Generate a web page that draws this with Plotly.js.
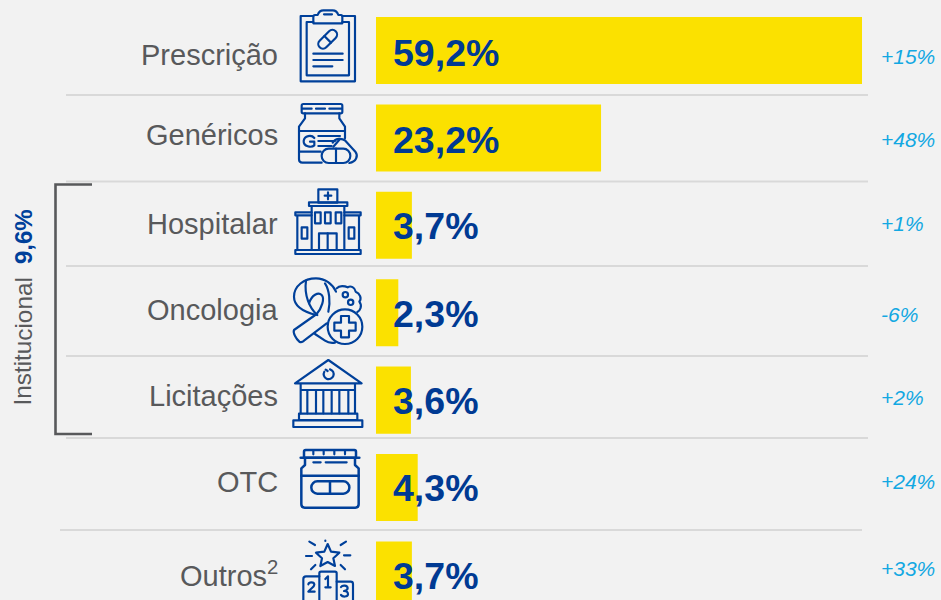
<!DOCTYPE html>
<html><head><meta charset="utf-8">
<script src="https://cdn.plot.ly/plotly-3.0.1.min.js"></script>
<style>html,body{margin:0;padding:0;background:#f2f2f2}#c{width:941px;height:600px}</style>
</head><body><div id="c"></div>
<script>
// ---- data
const categories = ["Prescrição","Genéricos","Hospitalar","Oncologia","Licitações","OTC","Outros<sup>2</sup>"];
const shares = [59.2,23.2,3.7,2.3,3.6,4.3,3.7];
const shareLabels = ["59,2%","23,2%","3,7%","2,3%","3,6%","4,3%","3,7%"];
const changeLabels = ["+15%","+48%","+1%","-6%","+2%","+24%","+33%"];
const groupName = "Institucional";
const groupShare = "9,6%";

// ---- layout helpers (page pixels to paper coordinates)
const W=941,H=600,L=376,R=862;
const px=x=>(x-L)/(R-L), py=y=>1-y/H;
const labelY=[55,135,224,310,396,482,574], shareY=[52.5,140.5,226.5,313.5,400.5,487.5,575.5], changeY=[56,139,224,314,397,481,568];
const BLUE="#00409a", GREY="#58595b", CYAN="#13a8e2";

const ann=[];
categories.forEach((c,i)=>{
  ann.push({text:c,xref:'paper',yref:'paper',x:px(280),y:py(labelY[i]),xanchor:'right',yanchor:'middle',showarrow:false,font:{family:'Liberation Sans',size:29,color:GREY}});
  ann.push({text:'<b>'+shareLabels[i]+'</b>',xref:'paper',yref:'paper',x:px(391),y:py(shareY[i]),xanchor:'left',yanchor:'middle',showarrow:false,font:{family:'Liberation Sans',size:37.5,color:'#003a93'}});
  ann.push({text:changeLabels[i],xref:'paper',yref:'paper',x:px(879),y:py(changeY[i]),xanchor:'left',yanchor:'middle',showarrow:false,font:{family:'Liberation Sans',size:21,style:'italic',color:CYAN}});
});
ann.push({text:groupName,xref:'paper',yref:'paper',x:px(23),y:py(341.5),xanchor:'center',yanchor:'middle',textangle:-89.99,showarrow:false,font:{family:'Liberation Sans',size:24.3,color:GREY}});
ann.push({text:'<b>'+groupShare+'</b>',xref:'paper',yref:'paper',x:px(23),y:py(237),xanchor:'center',yanchor:'middle',textangle:-89.99,showarrow:false,font:{family:'Liberation Sans',size:24,color:BLUE}});

const seps=[[66,868,95],[66,868,181.5],[66,868,266],[66,868,356],[66,868,438],[60,862,530]];
const shapes=seps.map(s=>({type:'line',xref:'paper',yref:'paper',x0:px(s[0]),x1:px(s[1]),y0:py(s[2]),y1:py(s[2]),line:{color:'#d9d9d9',width:2},layer:'below'}));
shapes.push({type:'path',xref:'paper',yref:'paper',
  path:`M ${px(92)} ${py(184.5)} L ${px(55.5)} ${py(184.5)} L ${px(55.5)} ${py(434)} L ${px(92)} ${py(434)}`,
  line:{color:GREY,width:2.6}});

// ---- pictograms
function svg(vb,body){
  return 'data:image/svg+xml,'+encodeURIComponent(`<svg xmlns="http://www.w3.org/2000/svg" viewBox="${vb.join(' ')}" width="${vb[2]}" height="${vb[3]}"><g fill="none" stroke="${BLUE}" stroke-width="6.5" stroke-linecap="round" stroke-linejoin="round">${body}</g></svg>`);
}
const icons=[
 {x0:280,y0:0,crop:0,h:90,body:`<path d="M100 48H62V244H225V48H187"/><path d="M100 66H80V226H207V66H187"/>
  <path d="M100 70V50C100 47 102 45 105 45H113C116 36 122 31 130 31H158C166 31 172 36 175 45H183C186 45 187 47 187 50V70Z"/><path d="M132 43H156"/>
  <g transform="rotate(-45 143 118)"><rect x="109" y="104" width="68" height="28" rx="14"/><path d="M143 104V132"/></g>
  <path d="M100 161H188M100 180H188M100 199H157"/>`},
 {x0:280,y0:90,crop:0,h:90,body:`<rect x="65" y="312" width="122" height="28" rx="5"/><path d="M68 326H95M108 326H135M148 326H185"/>
  <path d="M75 340V355M178 340V355M75 355L57 380V478C57 485 60 488 67 488H125M178 355L195 380V415"/>
  <path d="M57 393H195M57 455H122"/><path d="M103 414C95 404 73 406 71 423C70 440 94 444 103 436V425H90"/>
  <path d="M115 408H180M115 423H165M115 438H155"/>
  <rect x="125" y="446" width="86" height="43" rx="21"/><path d="M168 446V489"/>
  <path d="M158 428C165 415 185 413 196 422L226 455C236 468 228 486 208 489"/><path d="M180 417L160 440"/>`},
 {x0:280,y0:180,crop:180,h:90,body:`<rect x="115" y="28" width="57" height="40"/><path d="M144 37V58M134 47H154"/>
  <rect x="87" y="67" width="115" height="11"/><path d="M95 78V210M193 78V210"/>
  <rect x="105" y="97" width="17" height="33"/><rect x="135" y="97" width="17" height="33"/><rect x="167" y="97" width="17" height="33"/>
  <rect x="117" y="160" width="53" height="50"/><path d="M143 160V210"/>
  <path d="M95 97H46V106H95M193 97H242V106H193M52 106V210M237 106V210"/>
  <rect x="65" y="142" width="17" height="34"/><rect x="206" y="142" width="17" height="34"/>
  <rect x="46" y="210" width="196" height="12"/>`},
 {x0:280,y0:270,crop:180,h:90,body:`<path d="M108 405C70 395 42 378 42 350C42 318 72 295 108 295C135 295 158 312 168 335"/>
  <path d="M78 302C72 345 88 385 112 405"/>
  <path d="M87 370C95 345 115 335 125 345C135 355 125 385 110 402L42 450C38 458 48 476 58 485C64 488 68 486 72 482L140 430"/>
  <path d="M135 310C148 330 152 365 145 395"/><path d="M105 462L135 482C145 489 155 490 165 488"/>
  <circle cx="195" cy="440" r="52"/><path d="M183 408H207V428H227V452H207V472H183V452H163V428H183Z"/>
  <path d="M170 325C178 315 195 318 203 322C212 316 225 322 227 335C240 340 246 355 238 365C248 378 240 392 232 396"/>
  <circle cx="196" cy="344" r="8"/><circle cx="212" cy="367" r="8"/>`},
 {x0:280,y0:355,crop:355,h:90,body:`<path d="M145 15L45 85H245Z"/><path d="M150 43A15 15 0 1 1 133 50"/><path d="M137 44L143 48"/>
  <path d="M62 88V175M225 88V175M62 105H225"/>
  <path d="M82 108V175M108 108V175M130 108V175M155 108V175M178 108V175M205 108V175"/>
  <rect x="57" y="176" width="175" height="19"/><rect x="40" y="196" width="207" height="20"/>`},
 {x0:280,y0:445,crop:355,h:90,body:`<path d="M72 308V290C72 287 74 285 77 285H223C226 285 228 287 228 290V308Z" stroke-width="7.5"/><path d="M62 308H238" stroke-width="7.5"/>
  <path d="M100 285V298M131 285V298M163 285V298M195 285V298"/><path d="M75 310V330L64 340V448C64 454 68 458 74 458H226C232 458 236 454 236 448V340L225 330V310" stroke-width="7.5"/>
  <path d="M64 362H236" stroke-width="7.5"/><path d="M100 322H122M137 322H200"/>
  <rect x="94" y="379" width="114" height="37" rx="18" stroke-width="7.5"/><path d="M150 379V416" stroke-width="7.5"/>`},
 {x0:280,y0:535,crop:355,h:65,body:`<path d="M143 567L153 590L178 593L160 610L165 633L143 621L121 633L126 610L108 593L133 590Z"/>
  <path d="M88 560L105 570M198 560L182 570M78 603H96M192 601H211M93 643L106 630M195 643L182 630M136 557V558"/>
  <path d="M118 735V655C118 652 120 650 123 650H165C168 650 170 652 170 655V735"/>
  <path d="M118 664H78C73 664 70 667 70 672V735M170 680H212C216 680 219 683 219 687V735"/>
  <path d="M136 672L144 664V696M136 697H152" stroke-width="6.5"/>
  <path d="M85 688C87 680 102 680 103 689C103 696 92 700 85 710H104" stroke-width="6.5"/>
  <path d="M183 696C187 690 202 690 203 699C203 705 197 707 192 708C198 708 204 711 204 718C203 726 188 727 183 720" stroke-width="6.5"/>`}
];
const imgs=icons.map(ic=>({
  source:svg([0,(ic.y0-ic.crop)*3,300,ic.h*3],ic.body),xref:'paper',yref:'paper',x:px(ic.x0),y:py(ic.y0),
  sizex:100/(R-L),sizey:ic.h/H,xanchor:'left',yanchor:'top',sizing:'stretch',layer:'above'}));

Plotly.newPlot('c',[{
  type:'bar',orientation:'h',y:categories,x:shares,width:0.767,
  marker:{color:'#fbe100',line:{width:0}},hoverinfo:'skip',showlegend:false
}],{
  width:W,height:H,margin:{l:L,r:W-R,t:0,b:0,pad:0},
  paper_bgcolor:'#f2f2f2',plot_bgcolor:'rgba(0,0,0,0)',showlegend:false,
  xaxis:{range:[0,50.1],visible:false,fixedrange:true},
  yaxis:{type:'category',categoryorder:'array',categoryarray:categories,range:[6.287,-0.578],visible:false,fixedrange:true},
  annotations:ann,shapes:shapes,images:imgs
},{displayModeBar:false,staticPlot:true});
</script></body></html>
